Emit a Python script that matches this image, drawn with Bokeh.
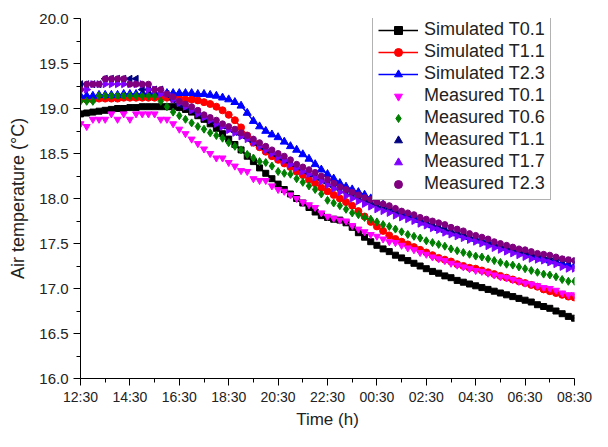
import numpy as np
from bokeh.plotting import figure
from bokeh.models import FixedTicker, Legend, LegendItem, Range1d
from bokeh.embed import file_html
from bokeh.resources import INLINE

# ---------------- data (hours after 12:30, every 15 min) ----------------
hours = [i * 0.25 for i in range(81)]

x_tick_values = [0, 2, 4, 6, 8, 10, 12, 14, 16, 18, 20]
x_tick_labels = ["12:30", "14:30", "16:30", "18:30", "20:30", "22:30",
                 "00:30", "02:30", "04:30", "06:30", "08:30"]
y_tick_values = [16.0, 16.5, 17.0, 17.5, 18.0, 18.5, 19.0, 19.5, 20.0]
y_tick_labels = ["16.0", "16.5", "17.0", "17.5", "18.0", "18.5", "19.0", "19.5", "20.0"]

sim_t01 = [18.94, 18.95, 18.96, 18.97, 18.98, 18.99, 19.00, 19.00, 19.01, 19.01,
           19.02, 19.02, 19.02, 19.02, 19.02, 19.02, 19.01, 18.99, 18.96, 18.92,
           18.88, 18.83, 18.78, 18.72, 18.66, 18.60, 18.54, 18.47, 18.41, 18.34,
           18.28, 18.22, 18.16, 18.10, 18.05, 18.00, 17.95, 17.90, 17.85, 17.81,
           17.79, 17.77, 17.76, 17.73, 17.68, 17.62, 17.57, 17.52, 17.48, 17.44,
           17.41, 17.37, 17.34, 17.31, 17.28, 17.25, 17.22, 17.19, 17.17, 17.14,
           17.12, 17.09, 17.07, 17.05, 17.03, 17.01, 16.99, 16.97, 16.95, 16.93,
           16.91, 16.89, 16.87, 16.85, 16.82, 16.80, 16.78, 16.75, 16.72, 16.69,
           16.67]
sim_t11 = [19.10, 19.10, 19.10, 19.11, 19.11, 19.11, 19.11, 19.12, 19.12, 19.12,
           19.12, 19.12, 19.12, 19.12, 19.12, 19.11, 19.11, 19.10, 19.10, 19.09,
           19.07, 19.05, 19.02, 18.98, 18.93, 18.87, 18.79, 18.70, 18.62, 18.57,
           18.52, 18.47, 18.43, 18.39, 18.35, 18.30, 18.26, 18.21, 18.17, 18.12,
           18.08, 18.04, 18.00, 17.96, 17.92, 17.86, 17.80, 17.74, 17.69, 17.64,
           17.59, 17.55, 17.52, 17.49, 17.46, 17.43, 17.40, 17.37, 17.34, 17.32,
           17.30, 17.27, 17.25, 17.23, 17.22, 17.20, 17.18, 17.16, 17.14, 17.12,
           17.10, 17.08, 17.06, 17.04, 17.02, 16.99, 16.97, 16.95, 16.93, 16.91,
           16.90]
sim_t23 = [19.14, 19.14, 19.14, 19.15, 19.15, 19.15, 19.15, 19.16, 19.16, 19.16,
           19.16, 19.17, 19.17, 19.17, 19.17, 19.17, 19.17, 19.17, 19.17, 19.16,
           19.16, 19.15, 19.14, 19.12, 19.10, 19.07, 19.03, 18.95, 18.86, 18.80,
           18.75, 18.71, 18.68, 18.63, 18.58, 18.54, 18.49, 18.44, 18.38, 18.32,
           18.27, 18.22, 18.17, 18.13, 18.10, 18.07, 18.04, 18.00, 17.96, 17.93,
           17.90, 17.87, 17.84, 17.81, 17.79, 17.76, 17.73, 17.70, 17.67, 17.65,
           17.63, 17.61, 17.59, 17.57, 17.55, 17.53, 17.51, 17.49, 17.47, 17.45,
           17.43, 17.41, 17.39, 17.37, 17.35, 17.33, 17.31, 17.30, 17.28, 17.26,
           17.25]
meas_t01 = [18.83, 18.80, 18.88, 18.88, 18.88, 18.94, 18.88, 18.94, 18.88, 18.94,
            18.94, 18.94, 18.94, 18.88, 18.88, 18.83, 18.77, 18.72, 18.66, 18.61,
            18.55, 18.50, 18.45, 18.45, 18.40, 18.36, 18.31, 18.30, 18.22, 18.20,
            18.20, 18.14, 18.10, 18.08, 18.04, 18.00, 17.96, 17.93, 17.90, 17.84,
            17.80, 17.78, 17.76, 17.75, 17.70, 17.66, 17.63, 17.60, 17.58, 17.55,
            17.52, 17.51, 17.48, 17.45, 17.43, 17.40, 17.38, 17.35, 17.33, 17.31,
            17.28, 17.26, 17.24, 17.22, 17.20, 17.19, 17.17, 17.15, 17.13, 17.12,
            17.10, 17.08, 17.06, 17.05, 17.03, 17.01, 17.00, 16.98, 16.95, 16.93,
            16.93]
meas_t06 = [19.08, 19.08, 19.08, 19.14, 19.14, 19.14, 19.14, 19.14, 19.14, 19.14,
            19.14, 19.14, 19.14, 19.08, 19.02, 18.96, 18.92, 18.88, 18.84, 18.80,
            18.77, 18.73, 18.70, 18.67, 18.62, 18.58, 18.54, 18.49, 18.45, 18.41,
            18.40, 18.36, 18.30, 18.28, 18.27, 18.22, 18.18, 18.14, 18.10, 18.05,
            17.98, 17.95, 17.92, 17.88, 17.84, 17.82, 17.79, 17.77, 17.74, 17.71,
            17.69, 17.66, 17.63, 17.60, 17.58, 17.56, 17.53, 17.51, 17.49, 17.47,
            17.44, 17.42, 17.40, 17.38, 17.36, 17.35, 17.33, 17.31, 17.29, 17.27,
            17.26, 17.24, 17.22, 17.20, 17.18, 17.16, 17.15, 17.13, 17.10, 17.08,
            17.08]
meas_t11 = [19.27, 19.27, 19.27, 19.27, 19.33, 19.33, 19.33, 19.33, 19.33, 19.33,
            19.21, 19.21, 19.21, 19.21, 19.16, 19.10, 19.05, 19.02, 18.99, 18.95,
            18.91, 18.88, 18.84, 18.81, 18.78, 18.74, 18.71, 18.67, 18.63, 18.59,
            18.55, 18.51, 18.47, 18.43, 18.40, 18.36, 18.32, 18.28, 18.25, 18.21,
            18.17, 18.13, 18.10, 18.07, 18.04, 18.01, 17.98, 17.96, 17.93, 17.90,
            17.88, 17.85, 17.83, 17.80, 17.78, 17.75, 17.73, 17.71, 17.69, 17.67,
            17.64, 17.62, 17.60, 17.58, 17.56, 17.54, 17.52, 17.50, 17.48, 17.46,
            17.44, 17.42, 17.40, 17.39, 17.37, 17.36, 17.34, 17.33, 17.32, 17.31,
            17.31]
meas_t17 = [19.21, 19.21, 19.27, 19.27, 19.27, 19.27, 19.27, 19.27, 19.27, 19.27,
            19.27, 19.21, 19.21, 19.16, 19.16, 19.10, 19.06, 19.02, 18.98, 18.94,
            18.90, 18.87, 18.83, 18.80, 18.76, 18.73, 18.69, 18.66, 18.62, 18.58,
            18.54, 18.50, 18.46, 18.42, 18.38, 18.34, 18.30, 18.27, 18.23, 18.19,
            18.15, 18.11, 18.07, 18.03, 18.00, 17.97, 17.94, 17.91, 17.88, 17.86,
            17.84, 17.81, 17.79, 17.77, 17.75, 17.72, 17.70, 17.67, 17.65, 17.62,
            17.60, 17.58, 17.56, 17.54, 17.52, 17.50, 17.47, 17.45, 17.43, 17.41,
            17.39, 17.37, 17.35, 17.33, 17.32, 17.31, 17.29, 17.27, 17.24, 17.22,
            17.22]
meas_t23 = [19.21, 19.27, 19.27, 19.27, 19.33, 19.33, 19.33, 19.33, 19.27, 19.27,
            19.27, 19.27, 19.21, 19.21, 19.16, 19.13, 19.08, 19.05, 19.02, 18.98,
            18.93, 18.90, 18.87, 18.83, 18.80, 18.77, 18.73, 18.70, 18.66, 18.62,
            18.58, 18.54, 18.50, 18.47, 18.43, 18.38, 18.35, 18.32, 18.29, 18.25,
            18.21, 18.17, 18.13, 18.10, 18.07, 18.04, 18.01, 17.99, 17.96, 17.94,
            17.92, 17.89, 17.86, 17.84, 17.82, 17.79, 17.77, 17.75, 17.73, 17.71,
            17.68, 17.66, 17.64, 17.61, 17.59, 17.57, 17.55, 17.52, 17.50, 17.48,
            17.46, 17.44, 17.43, 17.41, 17.39, 17.38, 17.37, 17.35, 17.33, 17.32,
            17.31]

FONT = "Liberation Sans"

p = figure(width=592, height=431, output_backend="svg", toolbar_location=None,
           x_range=Range1d(0, 20), y_range=Range1d(16, 20),
           min_border_left=80, min_border_right=18, min_border_top=18,
           min_border_bottom=48)
p.outline_line_color = None
p.xgrid.visible = False
p.ygrid.visible = False

# axes
p.xaxis.ticker = FixedTicker(ticks=x_tick_values,
                             minor_ticks=[v + 1 for v in x_tick_values[:-1]])
p.xaxis.major_label_overrides = {float(v): s for v, s in zip(x_tick_values, x_tick_labels)}
p.yaxis.ticker = FixedTicker(ticks=y_tick_values,
                             minor_ticks=[v + 0.25 for v in y_tick_values[:-1]])
p.yaxis.major_label_overrides = {float(v): s for v, s in zip(y_tick_values, y_tick_labels)}
p.xaxis.axis_label = "Time (h)"
p.yaxis.axis_label = "Air temperature (°C)"
for ax in (p.xaxis, p.yaxis):
    ax.axis_line_color = "black"
    ax.axis_line_width = 1
    ax.major_tick_line_color = "black"
    ax.minor_tick_line_color = "black"
    ax.major_tick_in = 0
    ax.major_tick_out = 7
    ax.minor_tick_in = 0
    ax.minor_tick_out = 4
    ax.major_label_text_font = FONT
    ax.major_label_text_font_size = "15px"
    ax.major_label_text_color = "#222222"
    ax.axis_label_text_font = FONT
    ax.axis_label_text_font_size = "18px"
    ax.axis_label_text_font_style = "normal"
    ax.axis_label_text_color = "#222222"
p.xaxis.major_label_text_font_size = "14px"
p.xaxis.axis_label_text_font_size = "17px"
p.xaxis.major_label_standoff = 3
p.xaxis.axis_label_standoff = 2
p.yaxis.major_label_standoff = 5
p.yaxis.axis_label_standoff = 8

# simulated series: line + markers
items = []
for vals, col, mk, sz, lab in [
        (sim_t01, "black", "square", 6, "Simulated T0.1"),
        (sim_t11, "#ff0000", "circle", 7, "Simulated T1.1"),
        (sim_t23, "#0000ff", "triangle", 8, "Simulated T2.3")]:
    lr = p.line(hours, vals, line_color=col, line_width=1.5)
    sr = p.scatter(hours, vals, marker=mk, size=sz, fill_color=col, line_color=col)
    items.append(LegendItem(label=lab, renderers=[lr, sr]))

# measured series: markers only (T1.1 points left, T1.7 points right)
for vals, col, mk, sz, ang, lab in [
        (meas_t01, "#ff00ff", "inverted_triangle", 7, 0, "Measured T0.1"),
        (meas_t06, "#008000", "diamond", 8, 0, "Measured T0.6"),
        (meas_t11, "#000080", "triangle", 7, 90, "Measured T1.1"),
        (meas_t17, "#8000ff", "triangle", 7, -90, "Measured T1.7"),
        (meas_t23, "#800080", "circle", 6, 0, "Measured T2.3")]:
    sr = p.scatter(hours, vals, marker=mk, size=sz, angle=ang, angle_units="deg",
                   fill_color=col, line_color=col)
    items.append(LegendItem(label=lab, renderers=[sr]))

legend = Legend(items=items, location=(292, 178))
legend.label_text_font = FONT
legend.label_text_font_size = "18px"
legend.label_text_color = "#222222"
legend.glyph_width = 40
legend.glyph_height = 20
legend.label_height = 20
legend.spacing = 1
legend.padding = 5
legend.margin = 0
legend.label_standoff = 6
legend.border_line_color = "#666666"
legend.border_line_width = 1
legend.background_fill_color = "white"
legend.background_fill_alpha = 1.0
p.add_layout(legend)

open("out.html", "w").write(file_html(p, INLINE))
